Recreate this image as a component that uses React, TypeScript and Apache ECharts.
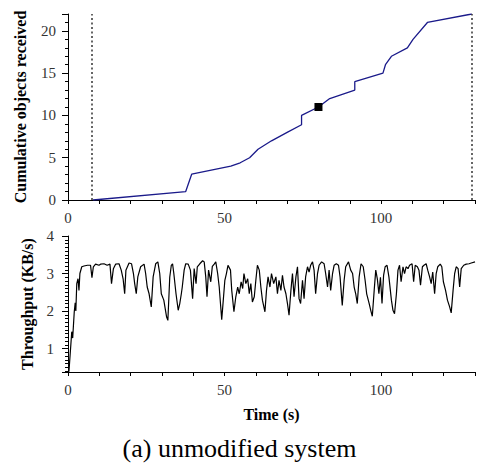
import React, { useEffect, useRef } from "react";
import * as echarts from "echarts";

// Top panel: cumulative objects received over time
const cumTime = [8, 37.6, 39.5, 52, 55, 58, 60.7, 65, 70, 74.6, 74.6, 80, 83.6, 91.6, 91.6, 100.6, 101.4, 103.3, 108.4, 110.2, 114.8, 129];
const cumCount = [0, 1.0, 3.05, 4.0, 4.4, 5.0, 6.0, 7.0, 8.0, 8.9, 10.0, 11, 12, 13, 14, 15, 16.0, 17.0, 18.0, 19, 21, 22];
const markerPoint = [80, 11];
const boundaryTimes = [7.5, 129];

// Bottom panel: throughput over time
const tpTime = [
  0.3, 1.2, 1.5, 2.0, 2.3, 2.5, 2.8, 3.2, 3.5, 3.8, 4.4, 5.1, 6.2, 7.2, 7.65, 8.1, 8.8, 9.9, 10.4, 11.5,
  12.5, 13.4, 13.9, 14.5, 15.2, 16.3, 17.0, 17.6, 18.1, 18.5, 19.5, 20.3, 20.9, 21.3, 21.8, 22.3, 23.2, 24.3, 24.8, 25.3,
  25.9, 26.6, 27.2, 28.0, 28.7, 29.3, 29.8, 30.6, 31.5, 31.9, 32.5, 33.0, 33.4, 33.8, 34.5, 35.2, 35.7, 36.2, 36.5, 37.1,
  37.6, 38.4, 39.1, 39.8, 40.3, 40.9, 41.3, 42.1, 43.0, 43.5, 44.0, 44.4, 44.9, 45.6, 46.1, 46.7, 47.2, 47.8, 48.3, 48.7,
  49.1, 49.6, 50.1, 50.6, 51.1, 51.9, 52.3, 53.0, 53.6, 54.2, 54.7, 55.3, 55.8, 56.2, 56.8, 57.4, 57.9, 58.4, 58.9, 59.5,
  60.0, 60.5, 61.1, 61.6, 62.1, 62.9, 63.4, 63.9, 64.5, 65.0, 65.7, 66.4, 66.9, 67.4, 68.0, 68.5, 69.0, 69.6, 70.1, 70.6,
  71.2, 71.7, 72.2, 72.8, 73.3, 73.8, 74.3, 74.9, 75.4, 75.9, 76.5, 77.0, 77.5, 78.1, 78.6, 79.1, 79.7, 80.2, 81.0, 81.8,
  82.3, 82.9, 83.4, 83.9, 84.5, 85.0, 85.7, 86.4, 86.9, 87.6, 88.2, 88.7, 89.6, 90.3, 90.9, 91.4, 91.9, 92.4, 93.0, 93.6,
  94.3, 94.9, 95.4, 96.2, 96.7, 97.2, 97.8, 98.3, 98.8, 99.3, 99.8, 100.3, 100.8, 101.3, 101.9, 102.5, 103.3, 103.8, 104.3, 104.9,
  105.4, 105.9, 106.4, 107.0, 107.5, 108.0, 108.6, 109.1, 109.9, 110.4, 110.9, 111.6, 112.1, 112.6, 113.2, 113.7, 114.4, 114.9, 115.5, 116.0,
  116.5, 117.1, 117.6, 118.1, 118.9, 119.4, 119.9, 120.6, 121.2, 121.9, 122.4, 123.0, 123.5, 124.0, 124.6, 125.1, 125.6, 126.4, 127.2, 128.1,
  128.8, 130,
];
const tpValue = [
  0.38, 1.45, 1.28, 1.98, 2.22, 2.0, 2.73, 2.86, 2.55, 3.0, 3.18, 3.2, 3.22, 3.22, 2.89, 3.18, 3.25, 3.22, 3.25, 3.26,
  3.22, 3.25, 2.73, 3.13, 3.25, 3.26, 3.09, 2.86, 2.46, 3.09, 3.28, 3.26, 3.0, 2.73, 2.46, 2.91, 3.18, 3.25, 3.0, 2.64,
  2.46, 2.11, 2.91, 3.26, 3.31, 3.0, 2.46, 2.29, 1.84, 1.75, 2.9, 3.22, 3.26, 3.0, 2.46, 2.02, 2.2, 2.46, 2.64, 3.09,
  3.26, 3.25, 3.09, 2.33, 3.13, 2.73, 3.18, 3.26, 3.34, 3.31, 2.91, 2.38, 3.09, 2.78, 3.19, 3.25, 3.31, 3.0, 2.64, 2.2,
  1.77, 2.29, 2.82, 3.0, 3.22, 3.09, 2.55, 1.98, 2.38, 2.64, 2.46, 2.78, 2.6, 3.0, 2.73, 2.86, 2.46, 2.73, 2.24, 2.38,
  2.82, 3.22, 3.09, 2.64, 2.29, 1.98, 2.55, 2.91, 2.64, 3.0, 2.73, 2.91, 2.46, 2.82, 2.55, 2.95, 2.64, 2.46, 2.2, 1.89,
  2.55, 3.0, 2.38, 2.91, 3.18, 2.33, 2.2, 2.82, 2.33, 2.91, 3.18, 3.04, 3.22, 3.31, 3.09, 2.46, 3.0, 3.22, 3.31, 3.26,
  3.0, 2.64, 3.09, 2.55, 3.0, 3.22, 3.26, 3.22, 2.91, 2.15, 2.82, 3.18, 3.31, 3.09, 3.0, 2.64, 2.46, 2.2, 2.91, 3.26,
  3.18, 2.82, 2.46, 2.2, 2.02, 1.86, 2.55, 3.09, 2.86, 2.46, 2.9, 2.2, 2.95, 3.18, 3.22, 2.91, 2.29, 2.02, 1.93, 2.46,
  3.09, 3.22, 2.78, 3.18, 3.0, 3.18, 3.13, 3.22, 3.26, 2.78, 3.22, 3.18, 3.09, 2.69, 3.18, 3.22, 3.26, 3.09, 2.91, 2.73,
  3.04, 2.46, 3.0, 3.18, 3.25, 3.18, 2.78, 2.55, 2.29, 2.11, 1.95, 2.55, 3.0, 3.18, 3.13, 2.64, 3.13, 3.22, 3.25, 3.26,
  3.28, 3.31,
];

const xLabelValues = [0, 50, 100];
const FONT = "'Liberation Serif', 'Times New Roman', serif";

export default function App() {
  const ref = useRef<HTMLDivElement>(null);
  useEffect(() => {
    if (!ref.current) return;
    const chart = echarts.init(ref.current, undefined, { renderer: "svg" });
    const axisLine = { show: true, lineStyle: { color: "#000", width: 1 } };
    const nameStyle = { color: "#000", fontFamily: FONT, fontSize: 16, fontWeight: "bold" as const };
    const xAxisBase = {
      type: "value" as const,
      min: 0,
      max: 130,
      interval: 10,
      axisLine,
      axisTick: { show: true, length: 4, lineStyle: { color: "#000" } },
      axisLabel: {
        color: "#333",
        fontFamily: FONT,
        fontSize: 15,
        margin: 10,
        formatter: (v: number) => (xLabelValues.includes(v) ? String(v) : ""),
      },
      splitLine: { show: false },
    };
    chart.setOption({
      animation: false,
      textStyle: { fontFamily: FONT },
      grid: [
        { left: 68, top: 14, width: 407, height: 186 },
        { left: 68, top: 236, width: 407, height: 136 },
      ],
      xAxis: [
        { ...xAxisBase, gridIndex: 0 },
        {
          ...xAxisBase,
          gridIndex: 1,
          name: "Time (s)",
          nameLocation: "middle",
          nameGap: 34,
          nameTextStyle: nameStyle,
        },
      ],
      yAxis: [
        {
          type: "value",
          gridIndex: 0,
          min: 0,
          max: 22,
          interval: 5,
          axisLine,
          axisTick: { show: true, length: 6, lineStyle: { color: "#000" } },
          minorTick: { show: true, splitNumber: 5, length: 3, lineStyle: { color: "#000" } },
          axisLabel: {
            color: "#333",
            fontFamily: FONT,
            fontSize: 15,
            margin: 12,
            formatter: (v: number) => (v % 5 === 0 ? String(v) : ""),
          },
          splitLine: { show: false },
          minorSplitLine: { show: false },
          name: "Cumulative objects received",
          nameLocation: "middle",
          nameGap: 40,
          nameTextStyle: nameStyle,
        },
        {
          type: "value",
          gridIndex: 1,
          min: 0.375,
          max: 4,
          axisLine,
          axisTick: { show: true, length: 6, lineStyle: { color: "#000" } },
          minorTick: { show: true, splitNumber: 10, length: 3, lineStyle: { color: "#000" } },
          axisLabel: {
            color: "#333",
            fontFamily: FONT,
            fontSize: 15,
            margin: 14,
            formatter: (v: number) => (Math.abs(v - Math.round(v)) < 1e-6 ? String(Math.round(v)) : ""),
          },
          splitLine: { show: false },
          minorSplitLine: { show: false },
          name: "Throughput (KB/s)",
          nameLocation: "middle",
          nameGap: 33,
          nameTextStyle: nameStyle,
        },
      ],
      series: [
        {
          type: "line",
          xAxisIndex: 0,
          yAxisIndex: 0,
          data: cumTime.map((t, i) => [t, cumCount[i]]),
          showSymbol: false,
          lineStyle: { color: "#1a1a8a", width: 1.3 },
          markLine: {
            silent: true,
            symbol: "none",
            label: { show: false },
            lineStyle: { type: [2, 2.5], color: "#333", width: 1.5 },
            data: boundaryTimes.map((t) => ({ xAxis: t })),
          },
        },
        {
          type: "scatter",
          xAxisIndex: 0,
          yAxisIndex: 0,
          z: 10,
          data: [markerPoint],
          symbol: "rect",
          symbolSize: 8,
          itemStyle: { color: "#000", opacity: 1 },
        },
        {
          type: "line",
          xAxisIndex: 1,
          yAxisIndex: 1,
          data: tpTime.map((t, i) => [t, tpValue[i]]),
          showSymbol: false,
          lineStyle: { color: "#000", width: 1.2 },
        },
      ],
      graphic: [
        {
          type: "text",
          left: "center",
          top: 435,
          style: {
            text: "(a) unmodified system",
            fontFamily: FONT,
            fontSize: 26,
            fill: "#000",
          },
        },
      ],
    });
    return () => chart.dispose();
  }, []);
  return (
    <div
      ref={ref}
      style={{ position: "fixed", left: 0, top: 0, width: 479, height: 464, background: "#fff" }}
    />
  );
}
